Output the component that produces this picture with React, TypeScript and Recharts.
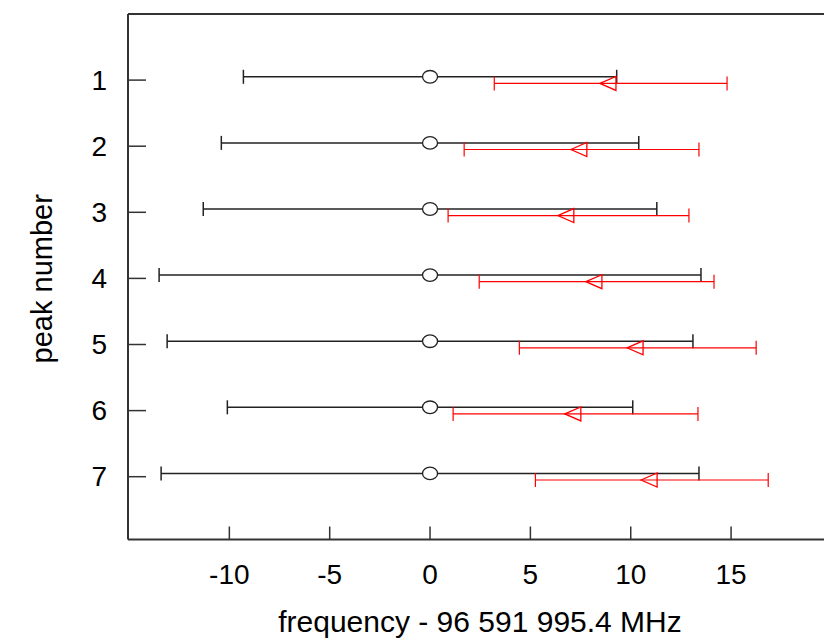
import {
  ScatterChart,
  Scatter,
  XAxis,
  YAxis,
  ErrorBar,
  ReferenceLine,
} from "recharts";

// peak numbers (categories on the y axis)
const PEAKS = [1, 2, 3, 4, 5, 6, 7];

// reference measurement: centred on 0, with its uncertainty
const REF_VALUES = [0, 0, 0, 0, 0, 0, 0];
const REF_ERRORS = [9.3, 10.4, 11.3, 13.5, 13.1, 10.1, 13.4];

// second measurement (red)
const RED_VALUES = [9.0, 7.55, 6.9, 8.3, 10.35, 7.25, 11.05];
const RED_ERRORS = [5.8, 5.85, 6.0, 5.85, 5.9, 6.1, 5.8];

const X_TICKS = [-10, -5, 0, 5, 10, 15];

// small vertical dodge so the two series don't overlap
const DODGE = 0.05;

const FONT = "'Liberation Sans', Arial, sans-serif";
const AXIS_COLOR = "#333";

const refData = PEAKS.map((p, i) => ({ x: REF_VALUES[i], y: p - DODGE, err: REF_ERRORS[i] }));
const redData = PEAKS.map((p, i) => ({ x: RED_VALUES[i], y: p + DODGE, err: RED_ERRORS[i] }));

// hollow circle marker
const CircleMarker = (props: any) => {
  const { cx, cy } = props;
  return <ellipse cx={cx} cy={cy} rx={7.5} ry={6.3} fill="#fff" stroke="#222" strokeWidth={1.3} />;
};

// left pointing triangle, centred on its centroid
const TriangleMarker = (props: any) => {
  const { cx, cy } = props;
  const d = `M${cx - 10.7},${cy} L${cx + 5.3},${cy - 7} L${cx + 5.3},${cy + 7} Z`;
  return <path d={d} fill="none" stroke="#f00" strokeWidth={1.3} />;
};

// y ticks drawn inward, labels to the left
const YTick = (props: any) => {
  const { x, y, payload } = props;
  return (
    <g>
      <line x1={x} x2={x + 18} y1={y} y2={y} stroke={AXIS_COLOR} strokeWidth={1.5} />
      <text x={x - 21} y={y} dy={9.5} textAnchor="end" fontSize={28} fontFamily={FONT} fill="#000">
        {payload.value}
      </text>
    </g>
  );
};

// x ticks drawn inward (upwards), labels below
const XTick = (props: any) => {
  const { x, y, payload } = props;
  return (
    <g>
      <line x1={x} x2={x} y1={y} y2={y - 13} stroke={AXIS_COLOR} strokeWidth={1.5} />
      <text x={x} y={y + 44} textAnchor="middle" fontSize={28} fontFamily={FONT} fill="#000">
        {payload.value}
      </text>
    </g>
  );
};

export default function App() {
  return (
    <div style={{ position: "absolute", left: 0, top: 0, background: "#fff" }}>
      <ScatterChart width={824} height={643} margin={{ top: 14, right: 0, bottom: 0, left: 0 }}>
        <XAxis
          type="number"
          dataKey="x"
          domain={[-15.05, 19.63]}
          allowDataOverflow
          ticks={X_TICKS}
          interval={0}
          height={103.5}
          tickSize={0}
          tickMargin={0}
          tick={<XTick />}
          axisLine={{ stroke: AXIS_COLOR, strokeWidth: 2 }}
          label={{
            content: ({ viewBox }: any) => (
              <text
                x={viewBox.x + viewBox.width / 2 + 4}
                y={viewBox.y + 92}
                textAnchor="middle"
                fontSize={30}
                fontFamily={FONT}
                fill="#000"
              >
                frequency - 96 591 995.4 MHz
              </text>
            ),
          }}
        />
        <YAxis
          type="number"
          dataKey="y"
          reversed
          domain={[0, 7.95]}
          allowDataOverflow
          ticks={PEAKS}
          interval={0}
          width={128}
          tickSize={0}
          tickMargin={0}
          tick={<YTick />}
          axisLine={{ stroke: AXIS_COLOR, strokeWidth: 2 }}
          label={{
            content: ({ viewBox }: any) => {
              const cx = 52;
              const cy = viewBox.y + viewBox.height / 2 + 2;
              return (
                <text
                  x={cx}
                  y={cy}
                  transform={`rotate(-90, ${cx}, ${cy})`}
                  textAnchor="middle"
                  fontSize={29}
                  fontFamily={FONT}
                  fill="#000"
                >
                  peak number
                </text>
              );
            },
          }}
        />
        {/* top frame line */}
        <ReferenceLine y={0} stroke={AXIS_COLOR} strokeWidth={2} />
        <Scatter data={refData} shape={<CircleMarker />} isAnimationActive={false}>
          <ErrorBar dataKey="err" direction="x" width={7} stroke="#222" strokeWidth={1.5} />
        </Scatter>
        <Scatter data={redData} shape={<TriangleMarker />} isAnimationActive={false}>
          <ErrorBar dataKey="err" direction="x" width={7} stroke="#f00" strokeWidth={1.2} />
        </Scatter>
      </ScatterChart>
    </div>
  );
}
